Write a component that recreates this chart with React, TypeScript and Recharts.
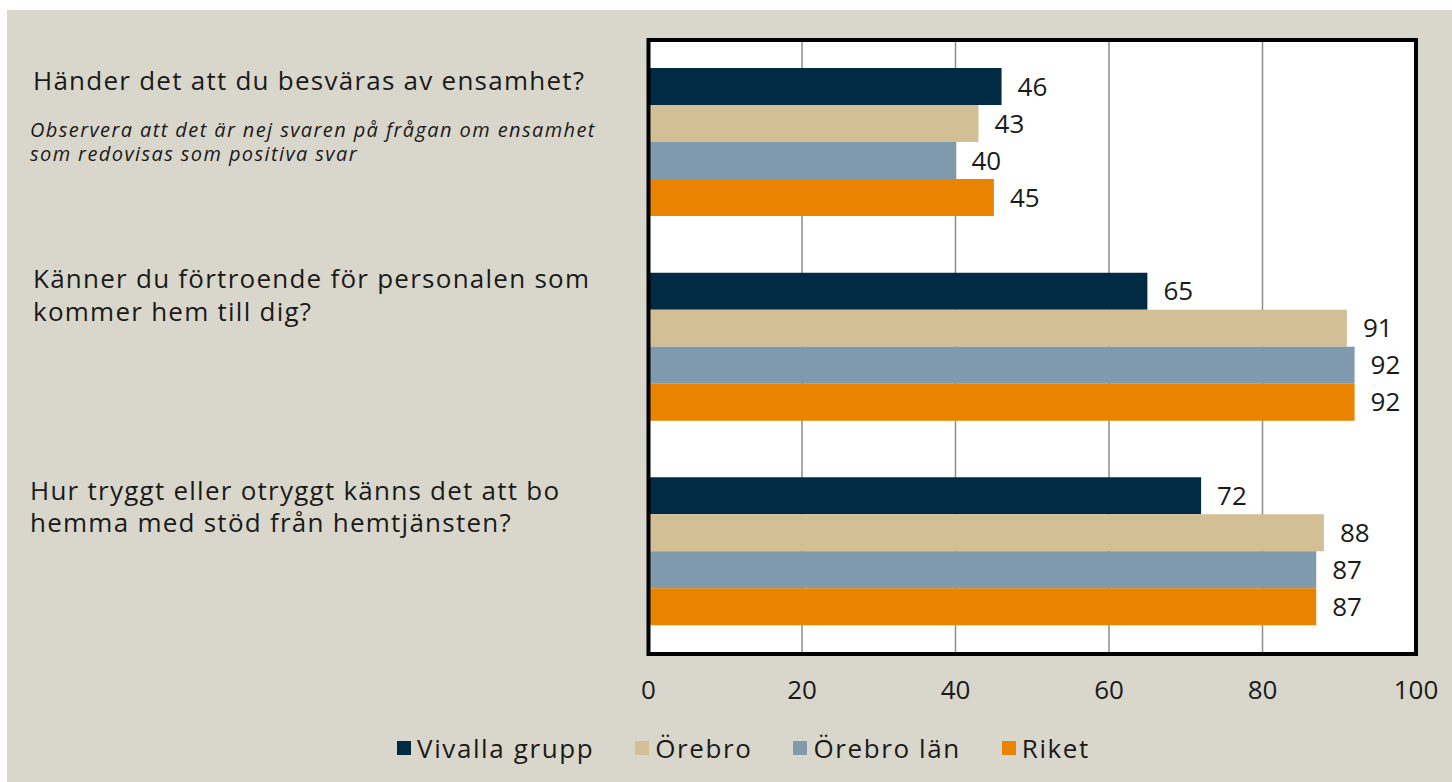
import React from "react";
import { BarChart, Bar, XAxis, YAxis, CartesianGrid, LabelList, Legend, ReferenceArea } from "recharts";

const categories = [
  "Händer det att du besväras av ensamhet?",
  "Känner du förtroende för personalen som kommer hem till dig?",
  "Hur tryggt eller otryggt känns det att bo hemma med stöd från hemtjänsten?",
];
const categoryLines = [
  ["Händer det att du besväras av ensamhet?"],
  ["Känner du förtroende för personalen som", "kommer hem till dig?"],
  ["Hur tryggt eller otryggt känns det att bo", "hemma med stöd från hemtjänsten?"],
];
const noteLines = [
  "Observera att det är nej svaren på frågan om ensamhet",
  "som redovisas som positiva svar",
];
const seriesNames = ["Vivalla grupp", "Örebro", "Örebro län", "Riket"];
const vivalla = [46, 65, 72];
const orebro = [43, 91, 88];
const orebroLan = [40, 92, 87];
const riket = [45, 92, 87];
const xTicks = [0, 20, 40, 60, 80, 100];

const colors = ["#012a43", "#d3bf95", "#7e9aac", "#e98300"];
const FONT = "'Open Sans', sans-serif";
const TEXT = "#1a1a1a";

const data = categories.map((q, i) => ({
  q,
  v0: vivalla[i],
  v1: orebro[i],
  v2: orebroLan[i],
  v3: riket[i],
}));

const lineOffsets = [[-52], [-59, -26], [-52, -20]];
const lineX = [26, 26, 23];

const CategoryTick = (props: any) => {
  const { y, payload } = props;
  const i = payload.index;
  const lines = categoryLines[i] || [];
  return (
    <g>
      {lines.map((l, k) => (
        <text key={k} x={lineX[i]} y={y + lineOffsets[i][k]} fontFamily={FONT} fontSize={26} letterSpacing={1.25} fill={TEXT} textAnchor="start">
          {l}
        </text>
      ))}
      {i === 0 &&
        noteLines.map((l, k) => (
          <text key={"n" + k} x={23} y={y - 5 + k * 24} fontFamily={FONT} fontSize={20} letterSpacing={1.4} fontStyle="italic" fill={TEXT} textAnchor="start">
            {l}
          </text>
        ))}
    </g>
  );
};

const LegendContent = () => (
  <div
    style={{
      height: 68,
      display: "flex",
      alignItems: "center",
      justifyContent: "center",
      paddingLeft: 64,
      fontFamily: FONT,
      fontSize: 26,
      letterSpacing: 1.6,
      color: TEXT,
    }}
  >
    {seriesNames.map((n, i) => (
      <div key={n} style={{ display: "flex", alignItems: "center", marginRight: i < 3 ? 41 : 0 }}>
        <span style={{ width: 14, height: 14, background: colors[i], display: "inline-block", marginRight: 6 }} />
        <span>{n}</span>
      </div>
    ))}
  </div>
);

export default function App() {
  return (
    <div style={{ position: "absolute", left: 7, top: 10, width: 1445, height: 772, background: "#d9d7cb" }}>
      <BarChart
        width={1445}
        height={772}
        data={data}
        layout="vertical"
        margin={{ top: 30, right: 36, left: 0, bottom: 0 }}
        barGap={0}
      >
        <CartesianGrid horizontal={false} vertical={true} stroke="#8c8c8c" strokeWidth={1.5} fill="#ffffff" />
        <XAxis
          type="number"
          domain={[0, 100]}
          ticks={xTicks}
          axisLine={false}
          tickLine={false}
          tickMargin={21}
          height={60}
          tick={{ fontFamily: FONT, fontSize: 26, fill: TEXT }}
        />
        <YAxis
          type="category"
          dataKey="q"
          width={641.5}
          axisLine={false}
          tickLine={false}
          tick={<CategoryTick />}
        />
        {["v0", "v1", "v2", "v3"].map((k, i) => (
          <Bar key={k} dataKey={k} name={seriesNames[i]} fill={colors[i]} barSize={37} isAnimationActive={false}>
            <LabelList dataKey={k} position="right" offset={16} fontFamily={FONT} fontSize={26} fill={TEXT} />
          </Bar>
        ))}
        <ReferenceArea x1={0} x2={100} fill="none" fillOpacity={0} stroke="#000000" strokeWidth={4} ifOverflow="visible" zIndex={1000} />
        <Legend verticalAlign="bottom" content={<LegendContent />} />
      </BarChart>
    </div>
  );
}
